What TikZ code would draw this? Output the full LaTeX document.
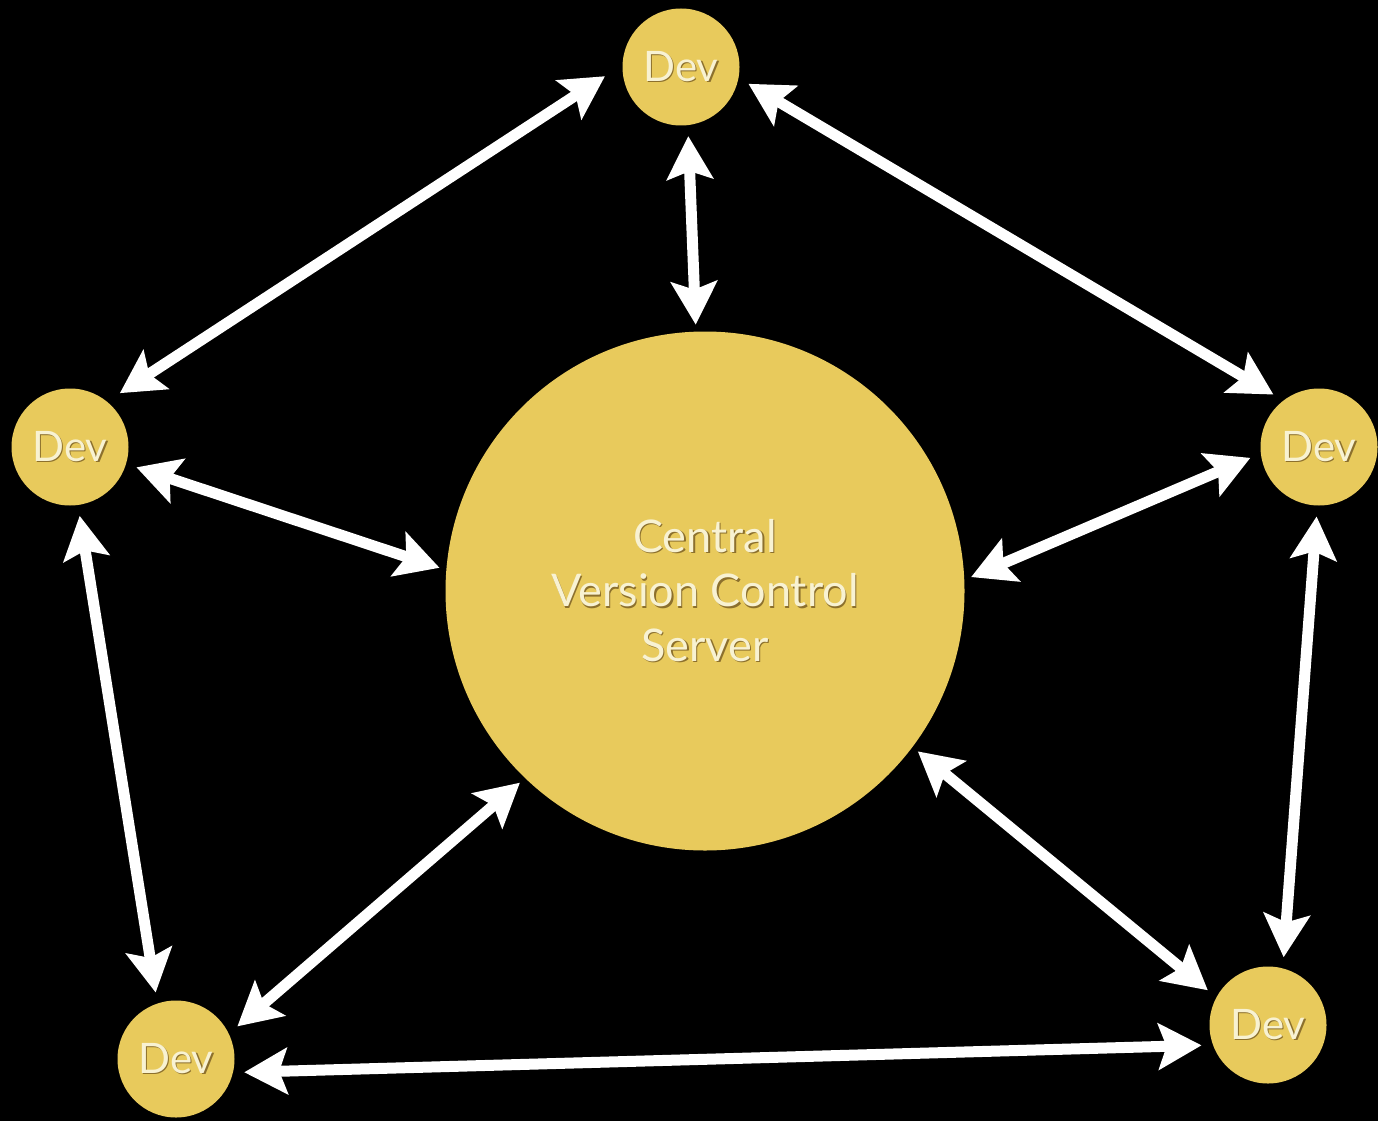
\documentclass[tikz,border=0pt]{standalone}
\usepackage{fontspec}
\setmainfont{Lato}
\usetikzlibrary{arrows.meta}

\definecolor{disc}{RGB}{232,202,92}
\definecolor{label}{RGB}{248,242,210}
\definecolor{labelshade}{RGB}{140,112,45}

% label text with a soft drop shadow underneath
\newcommand\shd[1]{\makebox[0pt][l]{\hspace{1.4pt}\raisebox{-1.4pt}{\textcolor{labelshade}{#1}}}#1}

\tikzset{
  dev/.style={circle, fill=disc, minimum size=117pt, inner sep=0pt, outer sep=11pt,
    text=label, font=\fontsize{42}{48}\selectfont},
  server/.style={circle, fill=disc, minimum size=519pt, inner sep=0pt, outer sep=7pt,
    text=label, align=center, font=\fontsize{45}{54.5}\selectfont},
  link/.style={draw=white, line width=11pt,
    arrows={Stealth[length=43pt,width=46pt,inset=8pt]-Stealth[length=43pt,width=46pt,inset=8pt]}}
}

\begin{document}
\begin{tikzpicture}[x=1pt, y=-1pt]
  \fill[black] (0,0) rectangle (1378,1121);
  \useasboundingbox (0,0) rectangle (1378,1121);

  % repository server and the five developers around it
  \node[server] (srv) at (705,591) {\shd{Central}\\\shd{Version Control}\\\shd{Server}};
  \node[dev] (top)   at (681,67)   {\shd{Dev}};
  \node[dev] (left)  at (70,447)   {\shd{Dev}};
  \node[dev] (right) at (1319,447) {\shd{Dev}};
  \node[dev] (bl)    at (176,1059) {\shd{Dev}};
  \node[dev] (br)    at (1268,1025){\shd{Dev}};

  % two-way exchanges
  \draw[link, shorten <=8pt, shorten >=4pt] (top.184) -- (left.48);
  \draw[link] (top.276)  -- (srv.92.6);
  \draw[link] (top.346)  -- (right.131);
  \draw[link] (left.343) -- (srv.175);
  \draw[link] (right.189) -- (srv.3);
  \draw[link] (left.278) -- (bl.107);
  \draw[link] (right.268) -- (br.77);
  \draw[link] (bl.28.5)  -- (srv.226);
  \draw[link] (br.150)   -- (srv.323.5);
  \draw[link] (bl.349)   -- (br.197);
\end{tikzpicture}
\end{document}
